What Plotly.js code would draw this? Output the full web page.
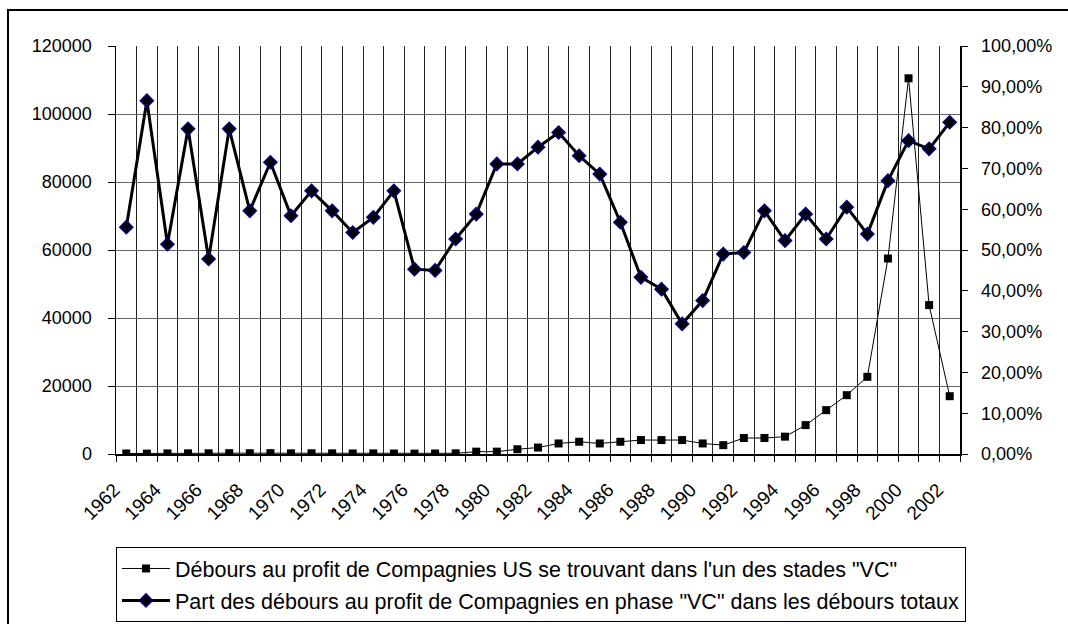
<!DOCTYPE html>
<html>
<head>
<meta charset="utf-8">
<script src="https://cdn.plot.ly/plotly-3.0.1.min.js"></script>
<style>
  html, body { margin: 0; padding: 0; background: #fff; }
  #chart { position: absolute; left: 0; top: 0; width: 1068px; height: 624px; }
  #frame { position: absolute; left: 7px; top: 9px; width: 1100px; height: 700px;
           border-left: 2px solid #000; border-top: 2px solid #000; pointer-events: none; }
</style>
</head>
<body>
<div id="chart"></div>
<div id="frame"></div>
<script>
const years = [1962,1963,1964,1965,1966,1967,1968,1969,1970,1971,1972,1973,1974,1975,1976,1977,1978,1979,1980,1981,
               1982,1983,1984,1985,1986,1987,1988,1989,1990,1991,1992,1993,1994,1995,1996,1997,1998,1999,2000,2001,2002];
const tickYears = [1962,1964,1966,1968,1970,1972,1974,1976,1978,1980,1982,1984,1986,1988,1990,1992,1994,1996,1998,2000,2002];
const tickLabels = tickYears.map(String);

// Débours (left axis)
const disbursements = [150,120,180,200,210,250,230,260,200,220,190,160,180,140,120,150,200,690,690,1400,
                       1900,3100,3600,3100,3600,4100,4100,4100,3100,2600,4700,4700,5100,8500,12900,17300,22700,57500,110500,43800,17000];
// Part des débours (right axis, percent)
const sharePct = [55.6,86.6,51.4,79.7,47.8,79.7,59.6,71.5,58.4,64.5,59.6,54.3,58.0,64.5,45.3,45.0,52.7,58.8,71.1,71.1,
                  75.2,78.8,73.1,68.6,56.8,43.3,40.4,31.9,37.6,49.0,49.4,59.6,52.3,58.8,52.7,60.5,53.9,67.0,76.8,74.8,81.3];
const share = sharePct.map(v => v / 100);

const name1 = 'Débours au profit de Compagnies US se trouvant dans l\'un des stades "VC"';
const name2 = 'Part des débours au profit de Compagnies en phase "VC" dans les débours totaux';

const FONT = 'Arial, "Liberation Sans", sans-serif';

const traces = [
  {
    x: years, y: disbursements, name: name1, type: 'scatter', mode: 'lines+markers',
    line: {color: '#000', width: 1},
    marker: {symbol: 'square', size: 8, color: '#000'},
    xaxis: 'x', yaxis: 'y', legendgroup: 'a'
  },
  {
    x: years, y: share, name: name2, type: 'scatter', mode: 'lines+markers',
    line: {color: '#000', width: 3},
    marker: {symbol: 'diamond', size: 10, color: '#000', line: {color: '#000080', width: 1.5}},
    xaxis: 'x', yaxis: 'y2', legendgroup: 'b'
  },
  // carrier trace so the label axis (x2) is drawn; it has no visible marks
  {x: [years[0]], y: [null], xaxis: 'x2', yaxis: 'y', showlegend: false, hoverinfo: 'skip', mode: 'markers'}
];

const layout = {
  width: 1068, height: 624,
  margin: {l: 116, r: 108, t: 46, b: 170, autoexpand: false},
  paper_bgcolor: '#fff', plot_bgcolor: '#fff',
  separators: ', ',
  font: {family: FONT, size: 18, color: '#000'},
  showlegend: true,
  xaxis: {
    type: 'linear', range: [1961.5, 2002.5],
    tick0: 1961.5, dtick: 1,
    showgrid: true, gridcolor: '#222', gridwidth: 1,
    showline: true, linecolor: '#000', linewidth: 1.5,
    ticks: 'outside', ticklen: 6, tickcolor: '#000',
    showticklabels: false, zeroline: false
  },
  xaxis2: {
    type: 'linear', range: [1961.5, 2002.5], overlaying: 'x', side: 'bottom',
    tickmode: 'array', tickvals: tickYears, ticktext: tickLabels,
    tickangle: -45, ticks: '', showgrid: false, showline: false, zeroline: false,
    tickfont: {family: FONT, size: 19, color: '#000'},
    ticklabelstandoff: 20, ticklabelshift: -12
  },
  yaxis: {
    range: [0, 120000], dtick: 20000, tick0: 0, tickformat: 'd',
    showgrid: true, gridcolor: '#666', gridwidth: 1,
    showline: true, linecolor: '#000', linewidth: 1.5,
    ticks: 'outside', ticklen: 7, tickcolor: '#000',
    zeroline: false, tickfont: {family: FONT, size: 18, color: '#000'},
    ticklabelstandoff: 12
  },
  yaxis2: {
    range: [0, 1], dtick: 0.1, tick0: 0, tickformat: '.2%',
    overlaying: 'y', side: 'right',
    showgrid: false, showline: true, linecolor: '#000', linewidth: 1.5,
    ticks: 'outside', ticklen: 6, tickcolor: '#000',
    zeroline: false, tickfont: {family: FONT, size: 18, color: '#000'},
    ticklabelstandoff: 10
  },
  legend: {
    xref: 'container', yref: 'container',
    x: 116 / 1068, y: 1 - 547 / 624, xanchor: 'left', yanchor: 'top',
    bordercolor: '#000', borderwidth: 1, bgcolor: '#fff',
    font: {family: FONT, size: 21.5, color: '#000'},
    itemwidth: 48,
    traceorder: 'grouped', tracegroupgap: 1
  }
};

Plotly.newPlot('chart', traces, layout, {staticPlot: true, displayModeBar: false});
</script>
</body>
</html>
